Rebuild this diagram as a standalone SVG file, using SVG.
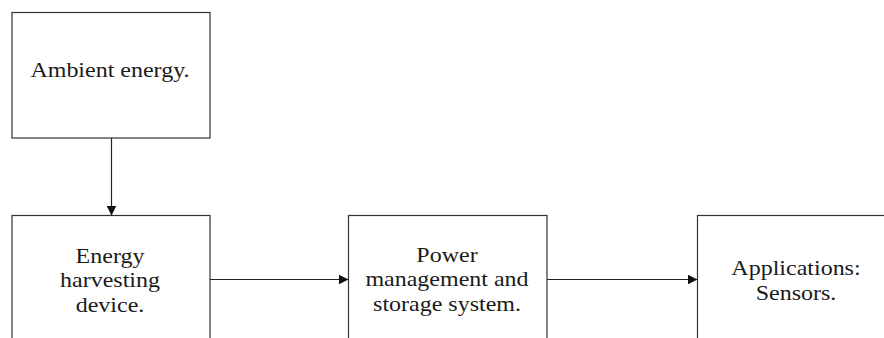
<svg xmlns="http://www.w3.org/2000/svg" width="884" height="338" viewBox="0 0 884 338">
  <style>
    .box { fill: #ffffff; stroke: #333333; stroke-width: 1.2; }
    .edge { fill: none; stroke: #222222; stroke-width: 1.2; }
    .lbl { font-size: 20px; fill: #1a1a1a; text-anchor: middle; }
  </style>
  <defs>
    <marker id="arrow" viewBox="0 0 10 10" refX="10" refY="5" markerWidth="10" markerHeight="10" markerUnits="userSpaceOnUse" orient="auto">
      <path d="M0,0 L10,5 L0,10 Z" fill="#111111"/>
    </marker>
  </defs>
  <rect width="884" height="338" fill="#ffffff"/>

  <g font-family="Liberation Serif, DejaVu Serif, serif">
    <g id="ambient">
      <rect class="box" x="12" y="12.5" width="198" height="125.5"/>
      <text class="lbl" transform="translate(110,76.5) scale(1.2,1)">Ambient energy.</text>
    </g>

    <g id="harvester">
      <rect class="box" x="12" y="215.5" width="198" height="140"/>
      <text class="lbl" transform="translate(110,262.5) scale(1.2,1)">Energy</text>
      <text class="lbl" transform="translate(110,287) scale(1.2,1)">harvesting</text>
      <text class="lbl" transform="translate(110,311.5) scale(1.2,1)">device.</text>
    </g>

    <g id="power">
      <rect class="box" x="348.5" y="215.5" width="198.5" height="140"/>
      <text class="lbl" transform="translate(447,261.5) scale(1.2,1)">Power</text>
      <text class="lbl" transform="translate(447,286) scale(1.2,1)">management and</text>
      <text class="lbl" transform="translate(447,310.5) scale(1.2,1)">storage system.</text>
    </g>

    <g id="applications">
      <rect class="box" x="697.5" y="215.5" width="198" height="140"/>
      <text class="lbl" transform="translate(796,275) scale(1.2,1)">Applications:</text>
      <text class="lbl" transform="translate(796,299.5) scale(1.2,1)">Sensors.</text>
    </g>
  </g>

  <g id="connectors">
    <line class="edge" x1="111.5" y1="138" x2="111.5" y2="215.5" marker-end="url(#arrow)"/>
    <line class="edge" x1="210" y1="279.5" x2="348.5" y2="279.5" marker-end="url(#arrow)"/>
    <line class="edge" x1="547" y1="279.5" x2="697.5" y2="279.5" marker-end="url(#arrow)"/>
  </g>
</svg>
